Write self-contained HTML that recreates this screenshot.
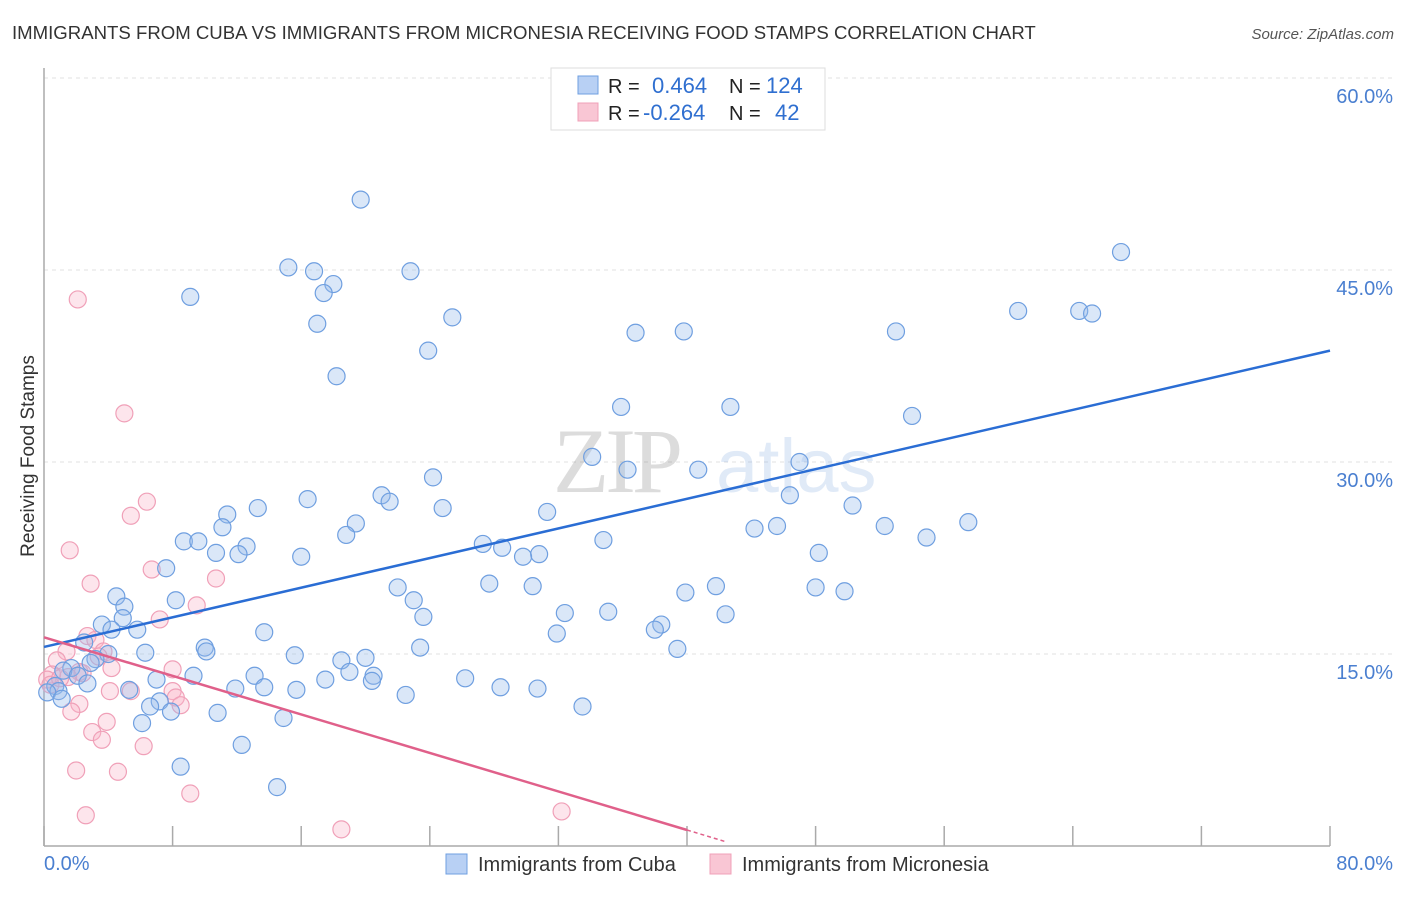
<!DOCTYPE html>
<html><head><meta charset="utf-8"><style>
body{margin:0;background:#fff;font-family:"Liberation Sans",sans-serif;}
</style></head><body>
<svg width="1406" height="892" xmlns="http://www.w3.org/2000/svg" font-family="Liberation Sans, sans-serif">
<text x="12" y="39" font-size="18.6" fill="#333">IMMIGRANTS FROM CUBA VS IMMIGRANTS FROM MICRONESIA RECEIVING FOOD STAMPS CORRELATION CHART</text>
<text x="1394" y="39" font-size="15" fill="#555" font-style="italic" text-anchor="end">Source: ZipAtlas.com</text>
<g id="grid"></g>
<g opacity="0.18">
<text x="553" y="492" font-size="92" font-family="Liberation Serif, serif" fill="#444" letter-spacing="-4">ZIP</text>
<text x="716" y="492" font-size="76" fill="#5b8fd8">atlas</text>
</g>
<g id="axes"></g>
<g id="pts"></g>
<g id="trend"></g>
<text transform="translate(34,456) rotate(-90)" font-size="19" fill="#333" text-anchor="middle">Receiving Food Stamps</text>
<g>
<rect x="551" y="68" width="274" height="62" fill="#fff" stroke="#ddd"/>
<rect x="578" y="76" width="20" height="18" fill="#b8d0f4" stroke="#6f9fe0"/>
<rect x="578" y="103" width="20" height="18" fill="#f9c6d4" stroke="#f0a0b8"/>
<text x="608" y="93" font-size="20" fill="#222">R = </text>
<text x="652" y="93" font-size="22" fill="#2f6fd0">0.464</text>
<text x="729" y="93" font-size="20" fill="#222">N = </text>
<text x="766" y="93" font-size="22" fill="#2f6fd0">124</text>
<text x="608" y="120" font-size="20" fill="#222">R = </text>
<text x="643" y="120" font-size="22" fill="#2f6fd0">-0.264</text>
<text x="729" y="120" font-size="20" fill="#222">N = </text>
<text x="775" y="120" font-size="22" fill="#2f6fd0">42</text>
</g>
<g>
<rect x="446" y="854" width="21" height="20" fill="#b8d0f4" stroke="#6f9fe0"/>
<text x="478" y="871" font-size="20" fill="#333">Immigrants from Cuba</text>
<rect x="710" y="854" width="21" height="20" fill="#f9c6d4" stroke="#f0a0b8"/>
<text x="742" y="871" font-size="20" fill="#333">Immigrants from Micronesia</text>
</g>
</svg>
<script>
const yTicks=[15,30,45,60];
const yTickLabels=["15.0%","30.0%","45.0%","60.0%"];
const xTicks=[0,8,16,24,32,40,48,56,64,72,80];
const cubaX=[19.7,67,15.2,16.8,22.8,18.0,17.4,9.1,60.6,64.4,65.2,25.4,17.0,39.8,36.8,53.0,23.9,18.2,35.9,42.7,54.0,34.1,47.0,36.3,40.7,24.2,21.0,46.4,16.4,21.5,50.3,13.3,24.8,31.3,11.4,57.5,19.4,45.6,52.3,44.2,11.1,18.8,54.9,34.8,8.7,9.6,27.3,12.6,28.5,10.7,12.1,30.8,16.0,29.8,48.2,7.6,27.7,30.4,41.8,22.0,48.0,49.8,39.9,4.5,8.2,23.0,5.0,32.4,35.1,42.4,23.6,4.9,3.6,38.4,5.8,4.2,38.0,31.9,13.7,2.5,10.0,23.4,39.4,6.3,15.6,10.1,4.0,3.2,18.5,20.0,2.9,1.7,19.0,1.2,2.1,9.3,13.1,20.5,20.4,17.5,7.0,26.2,2.7,0.7,13.7,11.9,15.7,28.4,30.7,5.3,0.9,0.2,22.5,1.1,7.2,6.6,33.5,7.9,10.8,14.9,6.1,12.3,8.5,14.5];
const cubaY=[50.5,46.4,45.2,44.9,44.9,43.9,43.2,42.9,41.8,41.8,41.6,41.3,40.8,40.2,40.1,40.2,38.7,36.7,34.3,34.3,33.6,30.4,30.0,29.4,29.4,28.8,27.4,27.4,27.1,26.9,26.6,26.4,26.4,26.1,25.9,25.3,25.2,25.0,25.0,24.8,24.9,24.3,24.1,23.9,23.8,23.8,23.6,23.4,23.3,22.9,22.8,22.8,22.6,22.6,22.9,21.7,20.5,20.3,20.3,20.2,20.2,19.9,19.8,19.5,19.2,19.2,18.7,18.2,18.3,18.1,17.9,17.8,17.3,17.3,16.9,16.9,16.9,16.6,16.7,15.9,15.5,15.5,15.4,15.1,14.9,15.2,15.0,14.6,14.5,14.7,14.3,13.9,13.6,13.7,13.3,13.3,13.3,13.3,12.9,13.0,13.0,13.1,12.7,12.5,12.4,12.3,12.2,12.4,12.3,12.2,12.1,12.0,11.8,11.5,11.3,10.9,10.9,10.5,10.4,10.0,9.6,7.9,6.2,4.6];
const micX=[2.1,5.0,6.4,5.4,1.6,6.7,2.9,10.7,9.5,7.2,2.7,3.2,1.4,3.7,0.8,4.2,8.0,2.2,1.5,0.5,0.2,4.1,5.4,8.0,8.2,2.2,8.5,1.7,3.9,3.0,3.6,6.2,2.0,4.6,9.1,2.6,18.5,32.2,0.4,1.0,2.4,3.4];
const micY=[42.7,33.8,26.9,25.8,23.1,21.6,20.5,20.9,18.8,17.7,16.4,16.1,15.2,15.2,14.5,13.9,13.8,13.6,13.2,13.4,13.0,12.1,12.1,12.1,11.6,11.1,11.0,10.5,9.7,8.9,8.3,7.8,5.9,5.8,4.1,2.4,1.3,2.7,12.6,13.1,13.5,14.8];
const cubaTrend=[[0,15.55],[80,38.7]];
const micTrend=[[0,16.3],[40,1.25]];
const micTrendDash=[[40,1.25],[42.5,0.3]];

const NS="http://www.w3.org/2000/svg";
const X=v=>44+v*(1286/80), Y=v=>846-v*12.8;
function mk(tag,attrs,parent){const e=document.createElementNS(NS,tag);for(const k in attrs)e.setAttribute(k,attrs[k]);document.getElementById(parent).appendChild(e);return e;}
yTicks.forEach((t,i)=>{
 const g=mk('line',{x1:44,x2:1394,y1:Y(t),y2:Y(t),stroke:'#e2e2e2','stroke-dasharray':'4 4'},'grid');
 
 
 const l=mk('text',{x:1393,y:Y(t)+25,'font-size':20,fill:'#4a7fd0','text-anchor':'end'},'grid');
 
 
 l.textContent=yTickLabels[i];
});
const ax=mk('line',{x1:44,x2:44,y1:68,y2:846,stroke:'#aaa','stroke-width':1.5},'axes');


const bx=mk('line',{x1:44,x2:1330,y1:846,y2:846,stroke:'#aaa','stroke-width':1.5},'axes');


xTicks.forEach(t=>{const k=mk('line',{x1:X(t),x2:X(t),y1:826,y2:846,stroke:'#aaa','stroke-width':1.5},'axes');
 
 });
const x0=mk('text',{x:44,y:870,'font-size':20,fill:'#4a7fd0'},'axes');x0.textContent='0.0%';


const x1=mk('text',{x:1393,y:870,'font-size':20,fill:'#4a7fd0','text-anchor':'end'},'axes');x1.textContent='80.0%';


micX.forEach((v,i)=>{const c=mk('circle',{cx:X(v),cy:Y(micY[i]),r:8.5,fill:'rgba(248,180,200,0.35)',stroke:'#f0a0b8','stroke-width':1.2},'pts');
 
 });
cubaX.forEach((v,i)=>{const c=mk('circle',{cx:X(v),cy:Y(cubaY[i]),r:8.5,fill:'rgba(150,185,235,0.35)',stroke:'#6f9fe0','stroke-width':1.2},'pts');
 
 });
const t1=mk('line',{x1:X(cubaTrend[0][0]),y1:Y(cubaTrend[0][1]),x2:X(cubaTrend[1][0]),y2:Y(cubaTrend[1][1]),stroke:'#2a6dd4','stroke-width':2.5},'trend');


const t2=mk('line',{x1:X(micTrend[0][0]),y1:Y(micTrend[0][1]),x2:X(micTrend[1][0]),y2:Y(micTrend[1][1]),stroke:'#e0608a','stroke-width':2.5},'trend');


const t3=mk('line',{x1:X(micTrendDash[0][0]),y1:Y(micTrendDash[0][1]),x2:X(micTrendDash[1][0]),y2:Y(micTrendDash[1][1]),stroke:'#e0608a','stroke-width':1.5,'stroke-dasharray':'4 3'},'trend');


</script>
</body></html>
